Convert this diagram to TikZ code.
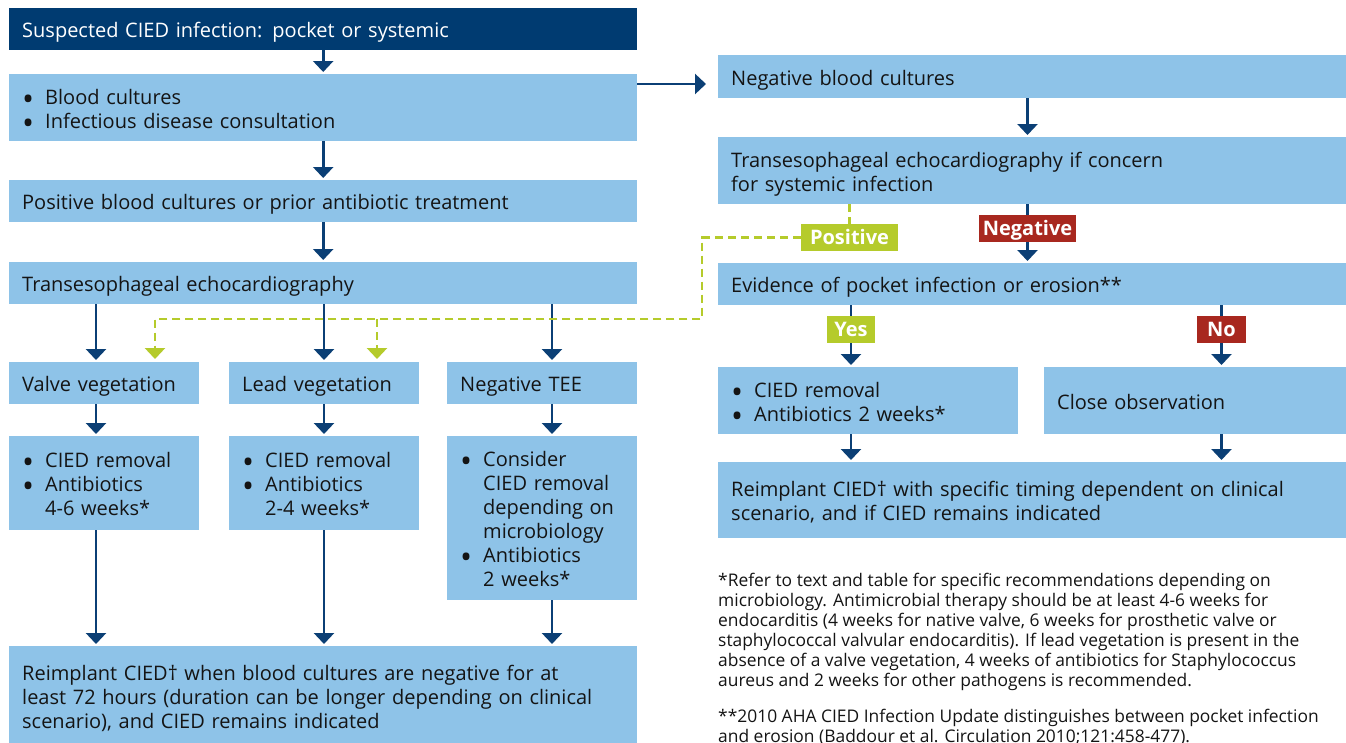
\documentclass[tikz,border=0pt]{standalone}
\usepackage{fontspec}
\setmainfont{Open Sans}
\usetikzlibrary{arrows.meta,calc}
\definecolor{dblue}{HTML}{003B71}
\definecolor{lblue}{HTML}{8EC3E8}
\definecolor{abl}{HTML}{0B3F75}
\definecolor{lgreen}{HTML}{B5CB2B}
\definecolor{dred}{HTML}{A8281F}
\definecolor{txt}{HTML}{141414}
\newcommand\bitem{\makebox[23pt][l]{\raisebox{-6.3pt}[0pt][0pt]{\scalebox{1.6}{\textbullet}}}}
\newcommand\bind{\hspace*{23pt}}
\begin{document}
\begin{tikzpicture}[x=1pt,y=-1pt,
  box/.style={fill=lblue, anchor=north west, inner xsep=13pt, inner ysep=0pt, align=left, text=txt,
    font=\fontsize{20}{24}\selectfont,
    execute at begin node={\rule{0pt}{22.1pt}},
    execute at end node={\rule[-5.5pt]{0pt}{5.5pt}}},
  lab/.style={text=white, font=\bfseries\fontsize{20}{24}\selectfont, inner sep=0pt, minimum height=27pt,
    text height=14.3pt, text depth=0pt, anchor=center},
  arr/.style={draw=abl, line width=2.6pt, -{Triangle[width=20pt,length=11pt]}, shorten >=2pt},
  bline/.style={draw=abl, line width=2.6pt},
  gline/.style={draw=lgreen, line width=2.6pt, dash pattern=on 8pt off 5pt},
  garr/.style={gline, -{Triangle[width=20pt,length=11pt]}, shorten >=3pt},
  note/.style={anchor=north west, inner sep=0pt, align=left, text=txt, font=\fontsize{17.4}{20}\selectfont,
    execute at begin node={\rule{0pt}{14pt}}}]
\useasboundingbox (0,0) rectangle (1346,742);
\fill[white] (0,0) rectangle (1346,742);

% left column
\node[box, fill=dblue, text=white, text width=602pt, minimum height=42pt] (title) at (9,8) {Suspected CIED infection: pocket or systemic};
\node[box, text width=602pt, minimum height=67pt] (b2) at (9,74) {\bitem Blood cultures\\\bitem Infectious disease consultation};
\node[box, text width=602pt, minimum height=42pt] (b3) at (9,180) {Positive blood cultures or prior antibiotic treatment};
\node[box, text width=602pt, minimum height=42pt] (b4) at (9,262) {Transesophageal echocardiography};

\node[box, text width=164pt, minimum height=42pt] (valve) at (9,362) {Valve vegetation};
\node[box, text width=164pt, minimum height=42pt] (lead) at (229,362) {Lead vegetation};
\node[box, text width=164pt, minimum height=42pt] (ntee) at (447,362) {Negative TEE};

\node[box, text width=164pt, minimum height=94pt] (valveR) at (9,436) {\bitem CIED removal\\\bitem Antibiotics\\\bind 4-6 weeks*};
\node[box, text width=164pt, minimum height=94pt] (leadR) at (229,436) {\bitem CIED removal\\\bitem Antibiotics\\\bind 2-4 weeks*};
\node[box, text width=164pt, minimum height=164pt] (teeR) at (447,436) {\bitem Consider\\\bind CIED removal\\\bind depending on\\\bind microbiology\\\bitem Antibiotics\\\bind 2 weeks*};

\node[box, text width=602pt, minimum height=100pt] (botL) at (9,646) {Reimplant CIED\textdagger{} when blood cultures are negative for at\\least 72 hours (duration can be longer depending on clinical\\scenario), and CIED remains indicated};

% right column
\node[box, text width=602pt, minimum height=43pt] (nbc) at (718,55) {Negative blood cultures};
\node[box, text width=602pt, minimum height=67pt] (tee2) at (718,137) {Transesophageal echocardiography if concern\\for systemic infection};
\node[box, text width=602pt, minimum height=42pt] (evid) at (718,263) {Evidence of pocket infection or erosion**};
\node[box, text width=274pt, minimum height=67pt] (remov) at (718,367) {\bitem CIED removal\\\bitem Antibiotics 2 weeks*};
\node[box, text width=276pt, minimum height=67pt] (close) at (1044,367) {Close observation};
\node[box, text width=602pt, minimum height=76pt] (reimp) at (718,462) {Reimplant CIED\textdagger{} with specific timing dependent on clinical\\scenario, and if CIED remains indicated};

% labels
\node[lab, fill=lgreen, minimum width=97pt] (pos) at (849.5,237.5) {Positive};
\node[lab, fill=dred, minimum width=97pt] (neg) at (1027.5,228.5) {Negative};
\node[lab, fill=lgreen, minimum width=48pt] (yes) at (851,329.5) {Yes};
\node[lab, fill=dred, minimum width=49pt] (no) at (1221.5,329.5) {No};

% coordinates for connector columns
\coordinate (c1) at (96,0);
\coordinate (c2) at (324,0);
\coordinate (c3) at (552,0);
\coordinate (h1) at (0,84);
\coordinate (gv1) at (155,0);
\coordinate (gv2) at (377,0);
\coordinate (g1) at (702,319);

% left connectors
\draw[arr] (title.south) -- (b2.north);
\draw[arr] (b2.south) -- (b3.north);
\draw[arr] (b3.south) -- (b4.north);
\draw[arr] (b4.south -| c1) -- (valve.north -| c1);
\draw[arr] (b4.south -| c2) -- (lead.north -| c2);
\draw[arr] (b4.south -| c3) -- (ntee.north -| c3);
\draw[arr] (valve.south -| c1) -- (valveR.north -| c1);
\draw[arr] (lead.south -| c2) -- (leadR.north -| c2);
\draw[arr] (ntee.south -| c3) -- (teeR.north -| c3);
\draw[arr] (valveR.south -| c1) -- (botL.north -| c1);
\draw[arr] (leadR.south -| c2) -- (botL.north -| c2);
\draw[arr] (teeR.south -| c3) -- (botL.north -| c3);
\draw[arr, shorten >=12pt] (b2.east |- h1) -- (nbc.west |- h1);

% right connectors
\draw[arr] (nbc.south -| neg.north) -- (tee2.north -| neg.north);
\draw[bline] (tee2.south -| neg.north) -- (neg.north);
\draw[arr] (neg.south) -- (evid.north -| neg.south);
\draw[bline] (evid.south -| yes.north) -- (yes.north);
\draw[arr] (yes.south) -- (remov.north -| yes.south);
\draw[bline] (evid.south -| no.north) -- (no.north);
\draw[arr] (no.south) -- (close.north -| no.south);
\draw[arr] (remov.south -| yes.south) -- (reimp.north -| yes.south);
\draw[arr] (close.south -| no.south) -- (reimp.north -| no.south);

% green dashed connectors
\draw[gline] (tee2.south -| pos.north) -- (pos.north);
\draw[garr] (pos.west) -| (g1) -- (g1 -| gv1) -- (valve.north -| gv1);
\draw[garr] (g1 -| gv2) -- (lead.north -| gv2);

% footnotes
\node[note] (fn1) at (718,573) {*Refer to text and table for specific recommendations depending on\\microbiology. Antimicrobial therapy should be at least 4-6 weeks for\\endocarditis (4 weeks for native valve, 6 weeks for prosthetic valve or\\staphylococcal valvular endocarditis). If lead vegetation is present in the\\absence of a valve vegetation, 4 weeks of antibiotics for Staphylococcus\\aureus and 2 weeks for other pathogens is recommended.};
\node[note] (fn2) at (718,709) {**2010 AHA CIED Infection Update distinguishes between pocket infection\\and erosion (Baddour et al. Circulation 2010;121:458-477).};
\end{tikzpicture}
\end{document}
